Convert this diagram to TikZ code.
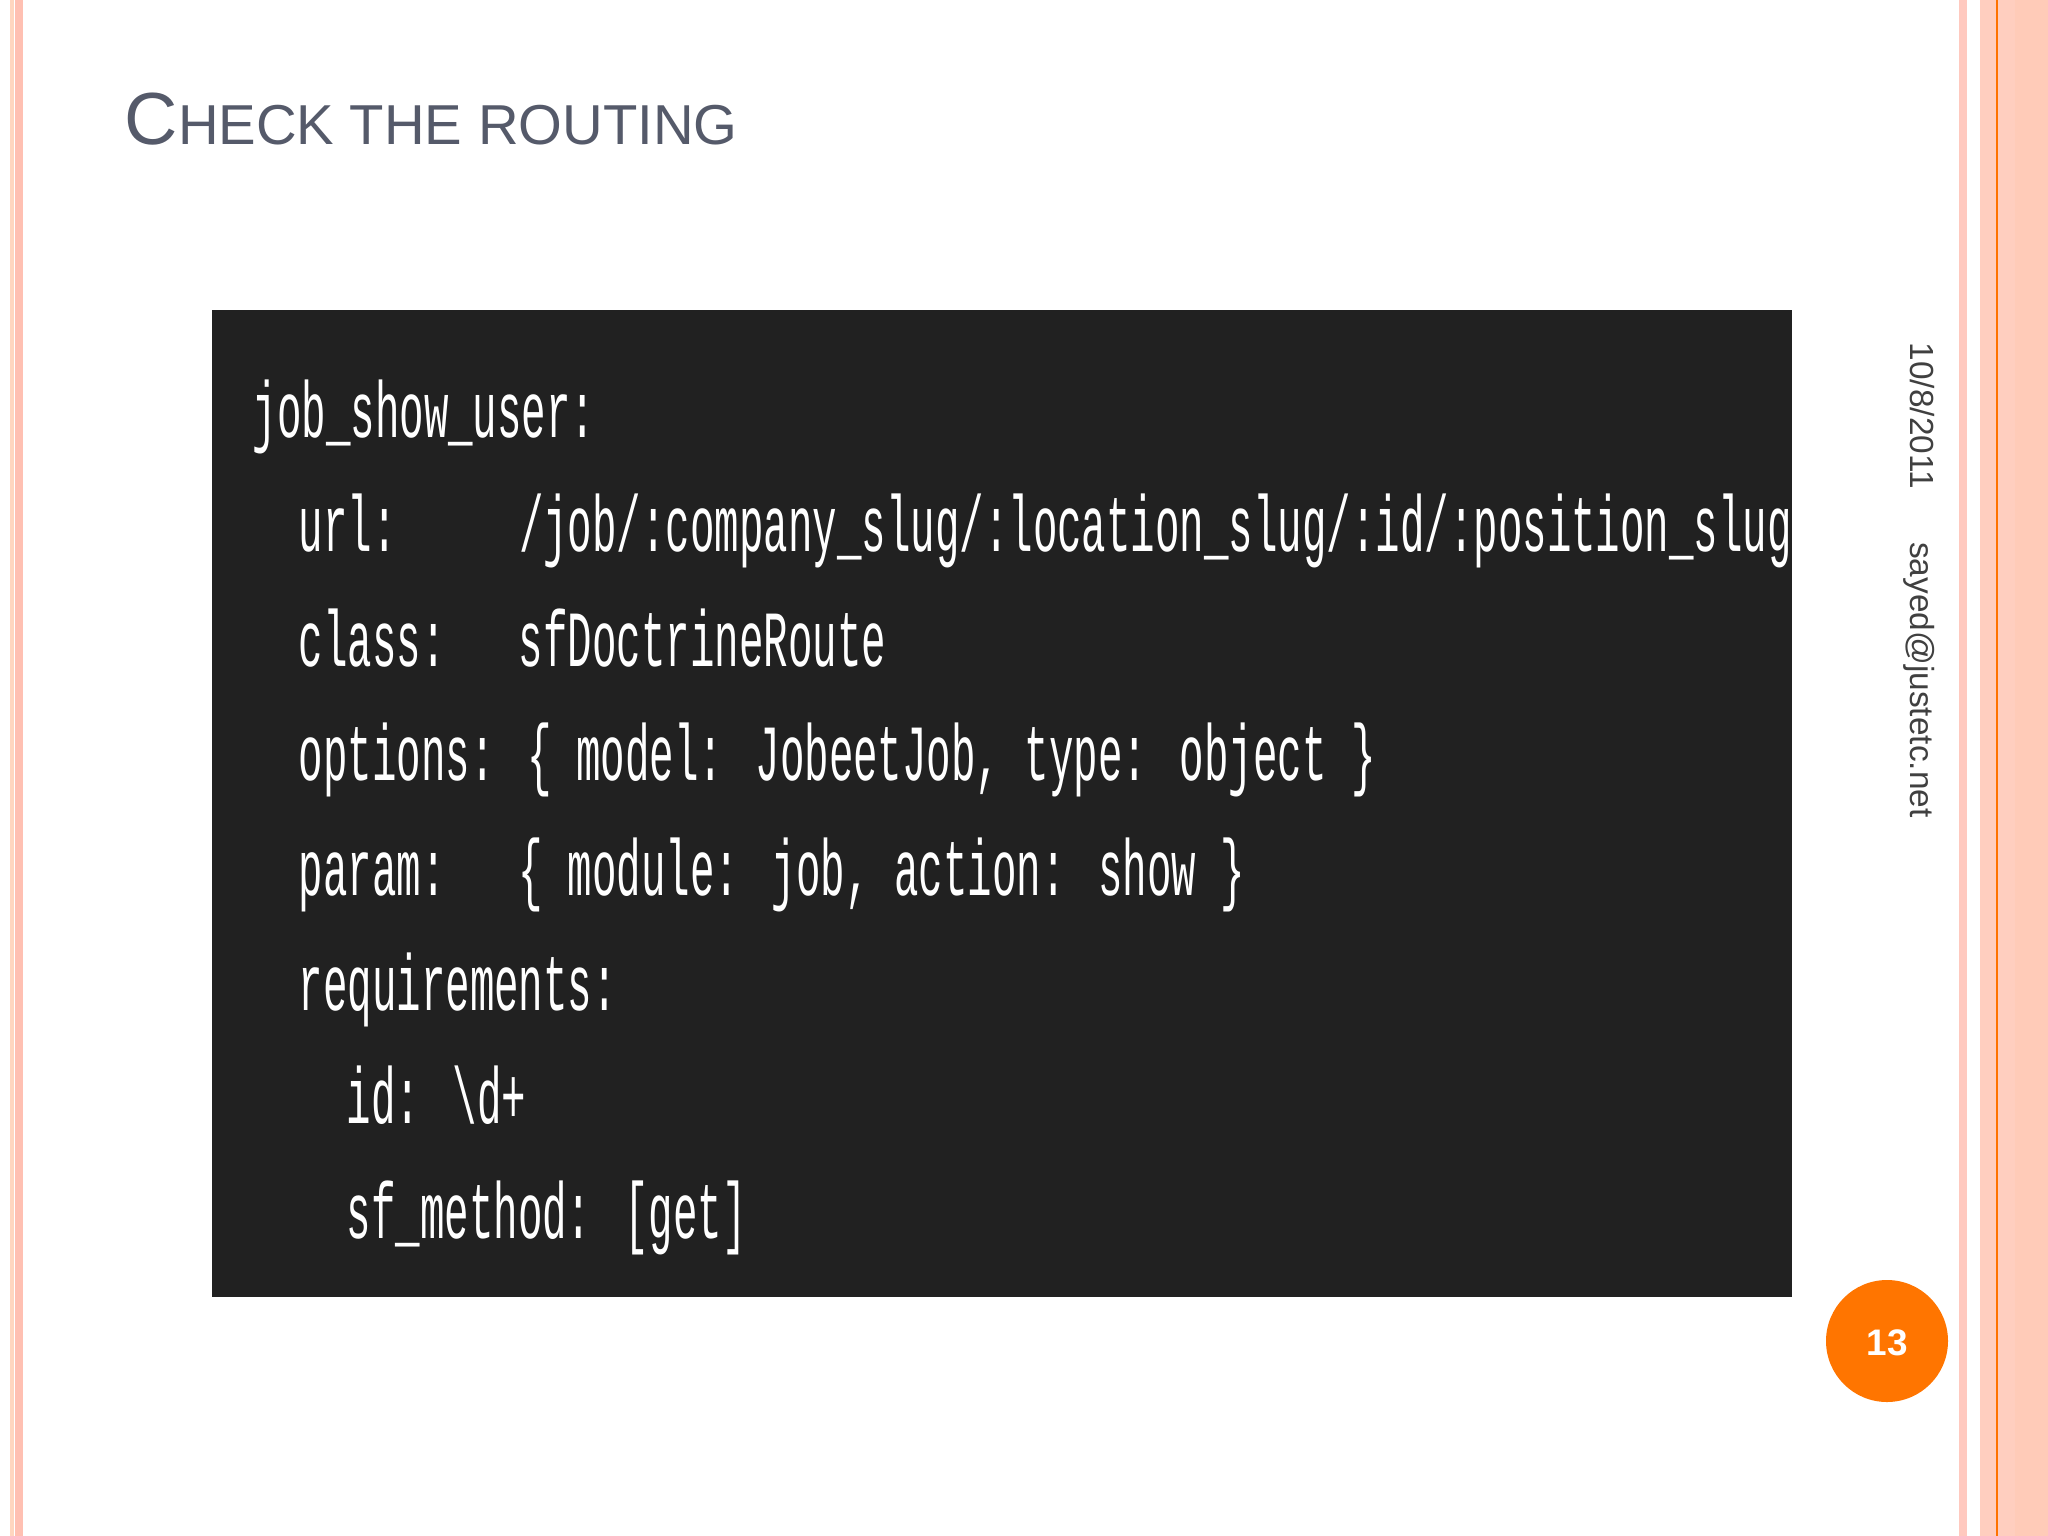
\documentclass[tikz,border=0pt]{standalone}
\usepackage{fontspec}
\setmainfont{Liberation Sans}
\newfontfamily\codefont{Liberation Mono}
\begin{document}
\begin{tikzpicture}[x=0.01cm,y=-0.01cm,
  codeline/.style={anchor=base west,text=white,inner sep=0pt,font=\codefont\fontsize{11.6pt}{12pt}\selectfont}]
\useasboundingbox (0,0) rectangle (2048,1536);
\fill[white] (0,0) rectangle (2048,1536);
% left stripes
\fill[red!30!orange!25] (10,0) rectangle (14,1536);
\fill[orange!35!red!30] (15,0) rectangle (23,1536);
% right stripes
\fill[orange!30!red!25] (1959,0) rectangle (1967,1536);
\fill[orange!45!red!25!white] (1980,0) rectangle (2048,1536);
\fill[orange!55!red!28!white] (2015,0) rectangle (2048,1536);
\draw[orange!90!red,line width=0.6pt] (1997,0) -- (1997,1536);
% title
\node[anchor=base west,inner sep=0pt,text={rgb,255:red,85;green,90;blue,106},font=\fontsize{21pt}{24pt}\selectfont] (title) at (124,144) {C{\fontsize{16pt}{18pt}\selectfont HECK THE ROUTING}};
% code box
\fill[black!87] (212,310) rectangle (1792,1297);
\node[codeline] (l1) at (252,437) {\scalebox{1}[1.95]{job\_show\_user:}};
\node[codeline] (l2) at (298,551) {\scalebox{1}[1.95]{url:\ \ \ \ \ /job/:company\_slug/:location\_slug/:id/:position\_slug}};
\node[codeline] (l3) at (298,666) {\scalebox{1}[1.95]{class:\ \ \ sfDoctrineRoute}};
\node[codeline] (l4) at (298,780) {\scalebox{1}[1.95]{options: \{ model: JobeetJob, type: object \}}};
\node[codeline] (l5) at (298,895) {\scalebox{1}[1.95]{param:\ \ \ \{ module: job, action: show \}}};
\node[codeline] (l6) at (298,1010) {\scalebox{1}[1.95]{requirements:}};
\node[codeline] (l7) at (346,1123) {\scalebox{1}[1.95]{id: \textbackslash d+}};
\node[codeline] (l8) at (346,1238) {\scalebox{1}[1.95]{sf\_method: [get]}};
% side text
\node[rotate=-90,anchor=north west,inner sep=0pt,text=black!75,font=\fontsize{9.5pt}{11pt}\selectfont] (side) at (1935,342) {10/8/2011\hspace{1.6em}sayed@justetc.net};
% page number
\fill[orange!80!red!90!yellow] (1887,1341) circle (61);
\node[text=white,font=\bfseries\fontsize{10.5pt}{12pt}\selectfont] (num) at (1887,1343) {13};
\end{tikzpicture}
\end{document}
